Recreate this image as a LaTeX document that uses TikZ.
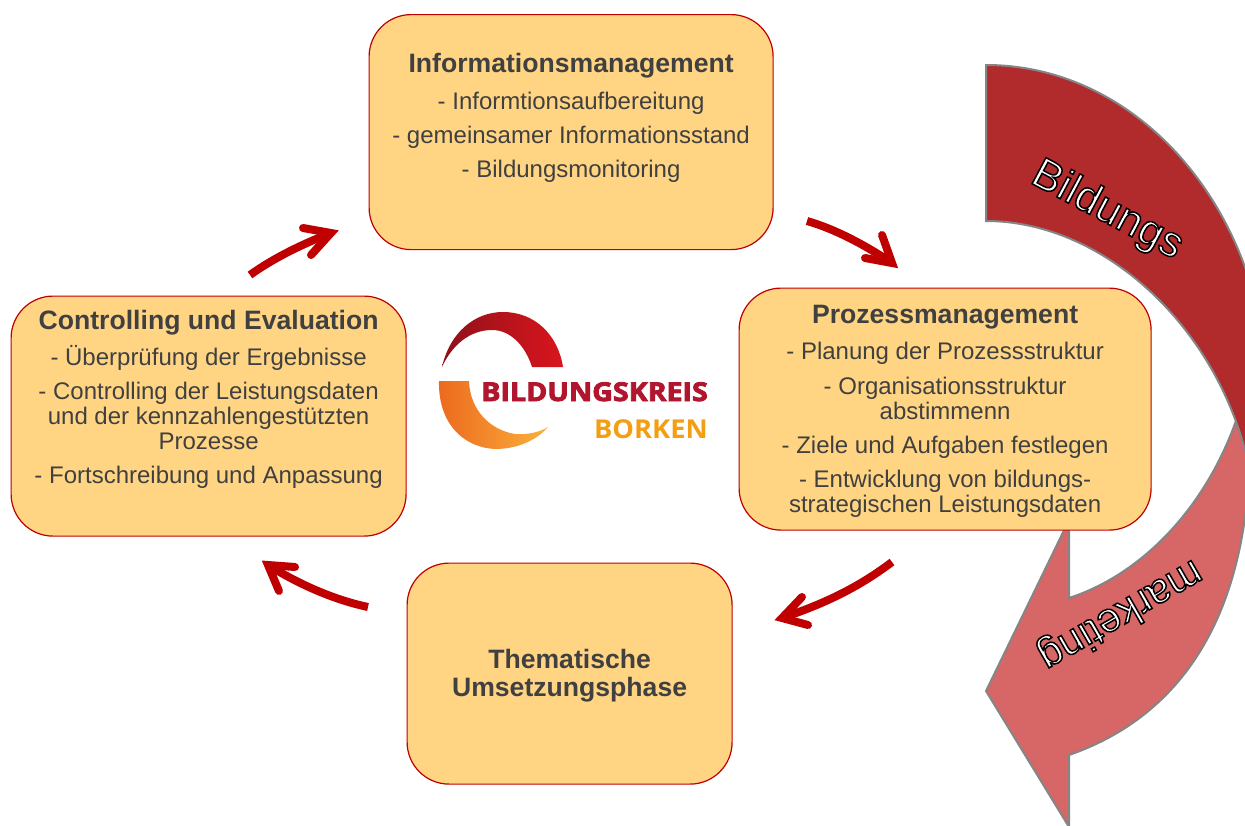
\documentclass[tikz,border=0pt]{standalone}
\usepackage{fontspec}
\setmainfont{Liberation Sans}
\newfontfamily\logofont{Open Sans}
\usetikzlibrary{calc}
\definecolor{boxfill}{HTML}{FFD584}
\definecolor{boxline}{HTML}{C00000}
\definecolor{txt}{HTML}{404040}
\definecolor{dark}{HTML}{B12A2C}
\definecolor{pink}{HTML}{D76666}
\definecolor{rim}{HTML}{858585}
\definecolor{logoDark}{HTML}{8E1119}
\definecolor{logoRed}{HTML}{DA151E}
\definecolor{logoOrA}{HTML}{EC6A1E}
\definecolor{logoOrB}{HTML}{FBB03B}
\definecolor{logoWord}{HTML}{B2162E}
\definecolor{logoWordB}{HTML}{F29F14}
\newcommand{\outlined}[1]{\special{pdf:code q 2 Tr 1.5 w 0 0 0 RG 1 1 1 rg}#1\special{pdf:code Q}}
\newcommand{\heavyword}[1]{\special{pdf:code q 2 Tr 0.8 w 0.698 0.086 0.18 RG}#1\special{pdf:code Q}}
\newcommand{\boxtext}[3]{\parbox[c][#1pt][t]{#2pt}{\centering\color{txt}#3}}
\newcommand{\ttl}[1]{{\fontsize{26.6pt}{28pt}\selectfont\bfseries #1}}
\tikzset{
  procbox/.style={draw=boxline,line width=1.2pt,fill=boxfill,rounded corners=42pt,inner sep=0pt,font=\fontsize{24pt}{25pt}\selectfont},
  shaft/.style={draw=boxline,line width=8pt},
  barb/.style={draw=boxline,line width=8pt,line cap=round,miter limit=10},
  swoosh/.style={draw=rim,line width=2pt,line join=miter},
  curvedtext/.style={inner sep=0pt}
}
\begin{document}
\begin{tikzpicture}[x=1pt,y=-1pt]
\useasboundingbox (0,0) rectangle (1245,825);
\fill[white] (0,0) rectangle (1245,825);
\begin{scope}
\clip (0,0) rectangle (1245,825);
% marketing arrow
\path[swoosh,fill=pink] (1237,418) .. controls (1205,510) and (1140,575) .. (1069,598)
  -- (1069,520) -- (986,691) -- (1069,827) -- (1069,755)
  .. controls (1170,720) and (1250,630) .. (1250,440) -- cycle;
% Bildungs band
\path[swoosh,fill=dark] (986,65) .. controls (1142,65) and (1268,215) .. (1268,400)
  -- (1268,530) .. controls (1260,500) and (1255,480) .. (1245,450)
  .. controls (1210,320) and (1100,221) .. (986,221) -- cycle;
\end{scope}
% boxes
\node[procbox,anchor=north west] (info) at (368.5,14) {\boxtext{235}{404}{\vspace{39pt}%
  \ttl{Informationsmanagement}\\[11.5pt]
  - Informtionsaufbereitung\\[9pt]
  - gemeinsamer Informationsstand\\[9pt]
  - Bildungsmonitoring}};
\node[procbox,anchor=north west] (proz) at (738.5,287.5) {\boxtext{242}{412}{\vspace{17pt}%
  \ttl{Prozessmanagement}\\[11pt]
  - Planung der Prozessstruktur\\[10pt]
  - Organisationsstruktur\\abstimmenn\\[9pt]
  - Ziele und Aufgaben festlegen\\[9pt]
  - Entwicklung von bildungs-\\strategischen Leistungsdaten}};
\node[procbox,anchor=north west] (ctrl) at (10.5,295.5) {\boxtext{240}{395}{\vspace{14pt}%
  \ttl{Controlling und Evaluation}\\[9pt]
  - Überprüfung der Ergebnisse\\[9pt]
  - Controlling der Leistungsdaten\\und der kennzahlengestützten\\Prozesse\\[9pt]
  - Fortschreibung und Anpassung}};
\node[procbox,anchor=north west] (them) at (406.5,562.5) {\boxtext{221}{325}{\vspace{86pt}%
  \ttl{Thematische\\[3pt]Umsetzungsphase}}};
% process arrows
\coordinate (a1) at (807,221); \coordinate (a2) at (892,263);
\draw[shaft] (a1) .. controls (835,229) and (865,245) .. (a2);
\draw[barb] (882,235) -- (a2) -- (865,258);
\coordinate (c1) at (892,562); \coordinate (c2) at (782,618);
\draw[shaft] (c1) .. controls (855,590) and (820,605) .. (c2);
\draw[barb] (802,597) -- (c2) -- (808,625);
\coordinate (d1) at (368,607); \coordinate (d2) at (268,565);
\draw[shaft] (d1) .. controls (335,600) and (300,585) .. (d2);
\draw[barb] (295,567) -- (d2) -- (279,591);
\coordinate (b1) at (250,275); \coordinate (b2) at (331,233);
\draw[shaft] (b1) .. controls (275,257) and (305,243) .. (b2);
\draw[barb] (303,228) -- (b2) -- (311,255);
% swoosh labels
\node[curvedtext,font=\fontsize{43pt}{43pt}\selectfont,rotate=-28] (lblA) at (1107,211) {\outlined{Bildungs}};
\node[curvedtext,font=\fontsize{41.5pt}{41.5pt}\selectfont,rotate=210] (lblB) at (1120,614) {\outlined{marketing}};
% logo
\shade[left color=logoDark,right color=logoRed] (442,367)
  .. controls (450,332) and (475,312) .. (503,312) .. controls (535,312) and (558,335) .. (563,367)
  -- (532,367) .. controls (525,345) and (510,330) .. (492,330) .. controls (470,330) and (452,345) .. (442,367) -- cycle;
\shade[left color=logoOrA,right color=logoOrB] (439,381) -- (469,381)
  .. controls (470,410) and (490,430) .. (515,434) .. controls (528,435) and (540,432) .. (548,427)
  .. controls (535,442) and (515,449) .. (495,449) .. controls (460,447) and (438,420) .. (439,381) -- cycle;
\node[inner sep=0pt,text=logoWord,anchor=base east] (logoA) at (708,401) {\logofont\fontsize{26pt}{26pt}\selectfont\bfseries\scalebox{1.1}[1]{\heavyword{BILDUNGSKREIS}}};
\node[inner sep=0pt,text=logoWordB,anchor=base east] (logoB) at (708,438) {\logofont\fontsize{26pt}{26pt}\selectfont\bfseries\scalebox{1.05}[1]{BORKEN}};
\end{tikzpicture}
\end{document}
